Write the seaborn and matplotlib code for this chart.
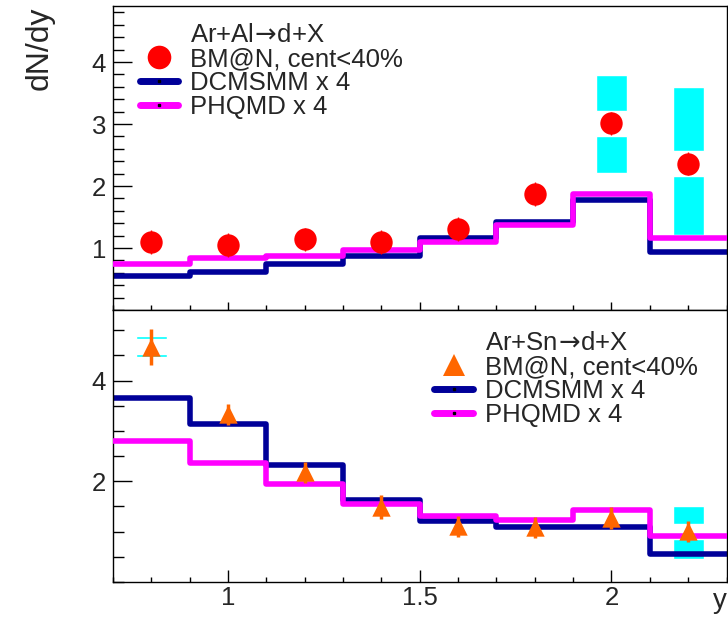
import numpy as np
import matplotlib
matplotlib.use("Agg")
import matplotlib.pyplot as plt
import seaborn as sns
from matplotlib.lines import Line2D
from matplotlib.ticker import MultipleLocator

# binning in rapidity
bin_edges = [0.7, 0.9, 1.1, 1.3, 1.5, 1.7, 1.9, 2.1, 2.3]
rapidity = [0.8, 1.0, 1.2, 1.4, 1.6, 1.8, 2.0, 2.2]

# Ar+Al -> d+X
al_bmn = [1.10, 1.05, 1.14, 1.10, 1.31, 1.87, 3.01, 2.36]
al_bmn_stat = [0.19, 0.19, 0.19, 0.19, 0.19, 0.19, 0.19, 0.19]
al_sys_idx = [6, 7]
al_sys_lo = [2.21, 1.21]
al_sys_hi = [3.79, 3.60]
al_dcmsmm = [0.55, 0.62, 0.75, 0.87, 1.16, 1.42, 1.77, 0.94]
al_phqmd = [0.74, 0.84, 0.87, 0.97, 1.10, 1.37, 1.87, 1.16]

# Ar+Sn -> d+X
sn_bmn = [4.67, 3.33, 2.18, 1.49, 1.11, 1.09, 1.27, 1.01]
sn_bmn_stat = [0.36, 0.21, 0.21, 0.23, 0.21, 0.21, 0.21, 0.21]
sn_sys_idx = [0, 7]
sn_sys_lo = [4.47, 0.46]
sn_sys_hi = [4.88, 1.50]
sn_dcmsmm = [3.66, 3.13, 2.32, 1.62, 1.21, 1.09, 1.09, 0.55]
sn_phqmd = [2.79, 2.37, 1.94, 1.54, 1.31, 1.23, 1.43, 0.91]

x_ticks = [1, 1.5, 2]
x_ticklabels = ["1", "1.5", "2"]
al_yticks = [1, 2, 3, 4]
sn_yticks = [2, 4]

NAVY = "#000099"
MAGENTA = "#ff00ff"
CYAN = "#00ffff"
RED = "#ff0000"
ORANGE = "#ff6600"

sns.set_style("ticks")
plt.rcParams["font.family"] = ["Liberation Sans", "DejaVu Sans"]
plt.rcParams["axes.edgecolor"] = "black"
plt.rcParams["axes.linewidth"] = 1.0

fig = plt.figure(figsize=(7.28, 6.2), dpi=100)
ax1 = fig.add_axes([0.155, 0.500, 0.843, 0.490])
ax2 = fig.add_axes([0.155, 0.0613, 0.843, 0.4387])


def draw_sys(ax, idx, lo, hi, center, gap):
    # systematic boxes, ROOT-style with a gap around the marker
    for i, l, h in zip(idx, lo, hi):
        x = rapidity[i]
        c = center[i]
        if c - gap > l:
            ax.bar(x, c - gap - l, bottom=l, width=0.08, color=CYAN, zorder=1)
        if h > c + gap:
            ax.bar(x, h - c - gap, bottom=c + gap, width=0.08, color=CYAN, zorder=1)


def draw_panel(ax, bmn, stat, dcm, phq, marker, mcolor, msize, elw):
    sns.histplot(x=rapidity, weights=dcm, bins=bin_edges, element="step",
                 fill=False, color=NAVY, linewidth=4, ax=ax, zorder=2)
    sns.histplot(x=rapidity, weights=phq, bins=bin_edges, element="step",
                 fill=False, color=MAGENTA, linewidth=4, ax=ax, zorder=3)
    ax.errorbar(rapidity, bmn, yerr=stat, fmt="none", ecolor=mcolor,
                elinewidth=elw, capsize=0, zorder=4)
    sns.scatterplot(x=rapidity, y=bmn, marker=marker, s=msize, color=mcolor,
                    linewidth=0, ax=ax, zorder=5)


draw_sys(ax1, al_sys_idx, al_sys_lo, al_sys_hi, al_bmn, 0.20)
draw_panel(ax1, al_bmn, al_bmn_stat, al_dcmsmm, al_phqmd, "o", RED, 260, 1.0)

draw_sys(ax2, sn_sys_idx, sn_sys_lo, sn_sys_hi, sn_bmn, 0.15)
draw_panel(ax2, sn_bmn, sn_bmn_stat, sn_dcmsmm, sn_phqmd, "^", ORANGE, 175, 2.5)

for ax in (ax1, ax2):
    ax.set_xlim(0.7, 2.3)
    ax.set_xticks(x_ticks)
    ax.xaxis.set_minor_locator(MultipleLocator(0.1))
    for s in ax.spines.values():
        s.set_visible(True)
        s.set_linewidth(1.0)
        s.set_color("black")
    ax.tick_params(axis="both", which="both", direction="in", top=False,
                   right=False, width=1, color="black", labelsize=18.5)
    ax.set_xlabel("")
    ax.set_ylabel("")

ax1.set_ylim(0.0, 4.9)
ax1.set_yticks(al_yticks)
ax1.set_yticklabels([str(v) for v in al_yticks])
ax1.yaxis.set_minor_locator(MultipleLocator(0.2))
ax1.tick_params(axis="y", which="major", length=13.5, pad=5)
ax1.tick_params(axis="y", which="minor", length=8)
ax1.tick_params(axis="x", which="major", length=5.8, labelbottom=False)
ax1.tick_params(axis="x", which="minor", length=3.6)

ax2.set_ylim(0.0, 5.4)
ax2.set_yticks(sn_yticks)
ax2.set_yticklabels([str(v) for v in sn_yticks])
ax2.yaxis.set_minor_locator(MultipleLocator(0.5))
ax2.set_xticklabels(x_ticklabels)
ax2.tick_params(axis="y", which="major", length=13.5, pad=5)
ax2.tick_params(axis="y", which="minor", length=8)
ax2.tick_params(axis="x", which="major", length=8.6, pad=3)
ax2.tick_params(axis="x", which="minor", length=3.6)

ax1.set_ylabel("dN/dy", fontsize=23, loc="top")
ax1.yaxis.set_label_coords(-0.0945, 1.0)
ax2.set_xlabel("y", fontsize=20, loc="right")
ax2.xaxis.set_label_coords(1.0, -0.022)


def make_legend(ax, header, marker, mcolor, msize, anchor):
    dot = dict(marker="s", markersize=1.5, markerfacecolor="black",
               markeredgecolor="black")
    handles = [
        Line2D([], [], linestyle="none"),
        Line2D([], [], linestyle="none", marker=marker, color=mcolor,
               markersize=msize, markeredgewidth=0),
        Line2D([], [], color=NAVY, linewidth=5, **dot),
        Line2D([], [], color=MAGENTA, linewidth=5, **dot),
    ]
    labels = [header, "BM@N, cent<40%", "DCMSMM x 4", "PHQMD x 4"]
    ax.legend(handles, labels, loc="upper left", bbox_to_anchor=anchor,
              frameon=False, fontsize=18.5, borderpad=0, borderaxespad=0,
              handlelength=1.5, handletextpad=0.47, labelspacing=0.0)


make_legend(ax1, "Ar+Al$\\!\\rightarrow\\!$d+X", "o", RED, 17, (0.044, 0.944))
make_legend(ax2, "Ar+Sn$\\!\\rightarrow\\!$d+X", "^", ORANGE, 15.5, (0.524, 0.9225))

fig.savefig("out.png", dpi=100)
